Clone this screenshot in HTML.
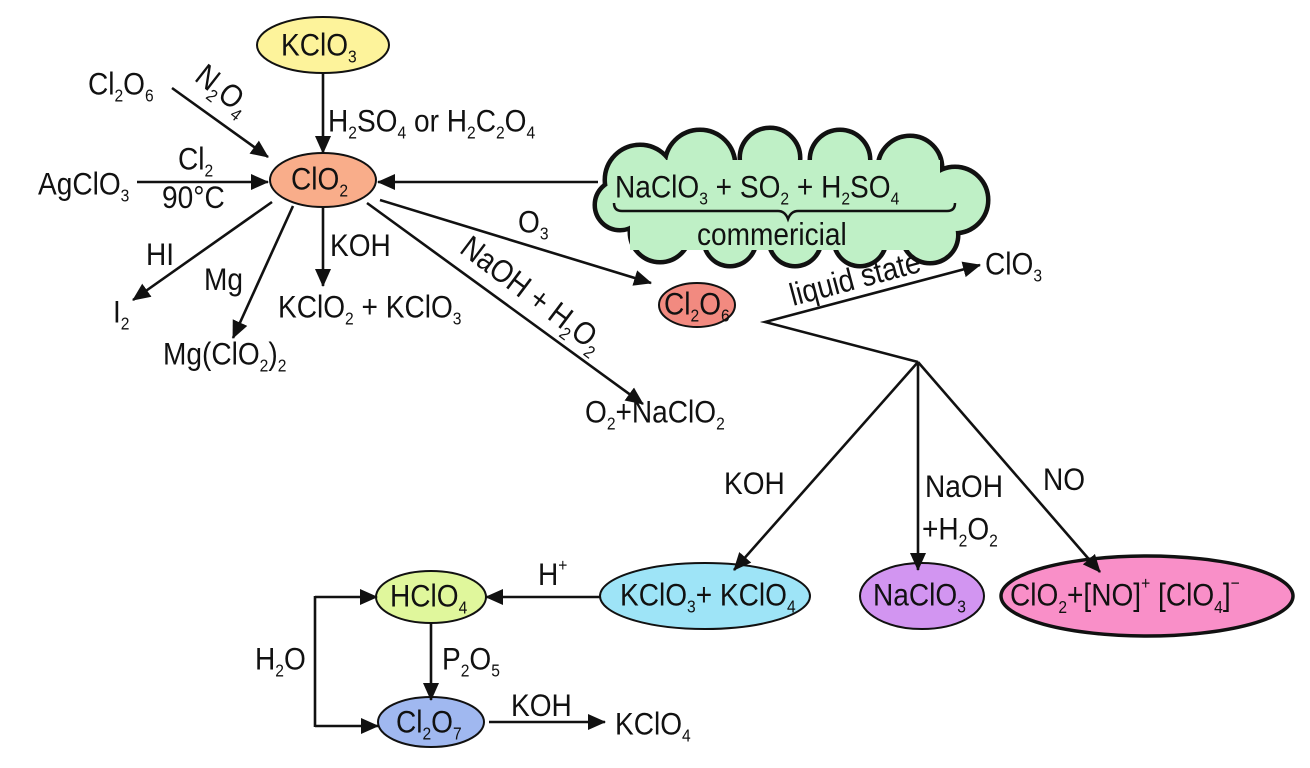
<!DOCTYPE html>
<html><head><meta charset="utf-8"><style>
html,body{margin:0;padding:0;background:#fff}
svg{display:block}
text{font-family:"Liberation Sans Narrow","Liberation Sans",sans-serif;font-size:27px;fill:#111;transform-box:fill-box;transform-origin:0 78%;transform:scale(1.04,1.18)}
.s{font-size:15px}
</style></head><body>
<svg width="1310" height="768" viewBox="0 0 1310 768" xmlns="http://www.w3.org/2000/svg">
<defs>
<marker id="b" markerWidth="18" markerHeight="18" refX="17" refY="9" orient="auto" markerUnits="userSpaceOnUse" viewBox="0 0 18 18">
<path d="M0,1 L18,9 L0,17 z" fill="#111"/></marker>
</defs>

<!-- cloud -->
<g stroke="#111" stroke-width="5" fill="#bff0c6">
<circle cx="640" cy="180" r="35"/><circle cx="700" cy="165" r="35"/><circle cx="770" cy="158" r="30"/>
<circle cx="840" cy="160" r="30"/><circle cx="910" cy="168" r="32"/><circle cx="955" cy="200" r="33"/>
<circle cx="930" cy="235" r="28"/><circle cx="860" cy="240" r="26"/><circle cx="795" cy="240" r="26"/>
<circle cx="730" cy="240" r="26"/><circle cx="660" cy="232" r="30"/><circle cx="620" cy="205" r="25"/>
</g>
<g fill="#bff0c6">
<circle cx="640" cy="180" r="33"/><circle cx="700" cy="165" r="33"/><circle cx="770" cy="158" r="28"/>
<circle cx="840" cy="160" r="28"/><circle cx="910" cy="168" r="30"/><circle cx="955" cy="200" r="31"/>
<circle cx="930" cy="235" r="26"/><circle cx="860" cy="240" r="24"/><circle cx="795" cy="240" r="24"/>
<circle cx="730" cy="240" r="24"/><circle cx="660" cy="232" r="28"/><circle cx="620" cy="205" r="23"/>
<rect x="630" y="160" width="310" height="90"/>
</g>
<path d="M614,203 q0,8 8,8 L778,211 q7,0 10,8 q3,-8 10,-8 L947,211 q8,0 8,-8" stroke="#111" stroke-width="2.5" fill="none"/>

<!-- ellipses -->
<g stroke="#111" stroke-width="2">
<ellipse cx="323" cy="45" rx="66" ry="28" fill="#fdf39b"/>
<ellipse cx="323" cy="180" rx="53" ry="27" fill="#f9ad8a"/>
<ellipse cx="697" cy="305" rx="38" ry="22" fill="#f28a80"/>
<ellipse cx="705" cy="596" rx="105" ry="33" fill="#9ee4f7"/>
<ellipse cx="922" cy="596" rx="62" ry="33" fill="#d295f1"/>
<ellipse cx="1147" cy="596" rx="146" ry="40" fill="#f98fc8" stroke-width="3.5"/>
<ellipse cx="431" cy="597" rx="55" ry="26" fill="#e0f79c"/>
<ellipse cx="431" cy="722" rx="53" ry="25" fill="#a0b8f0"/>
</g>

<g stroke="#111" stroke-width="2.6" fill="none" marker-end="url(#b)">
<line x1="323" y1="73" x2="323" y2="153"/>
<line x1="172" y1="88" x2="268" y2="157"/>
<line x1="137" y1="182" x2="268" y2="182"/>
<line x1="598" y1="182" x2="378" y2="182"/>
<line x1="272" y1="202" x2="133" y2="300"/>
<line x1="293" y1="206" x2="233" y2="338"/>
<line x1="323" y1="207" x2="323" y2="286"/>
<line x1="367" y1="203" x2="643" y2="404"/>
<line x1="380" y1="200" x2="651" y2="283"/>
<polyline points="918,362 765,322 980,265"/>
<line x1="918" y1="362" x2="734" y2="570"/>
<line x1="918" y1="362" x2="918" y2="570"/>
<line x1="918" y1="362" x2="1100" y2="572"/>
<line x1="600" y1="597" x2="486" y2="597"/>
<line x1="431" y1="623" x2="431" y2="700"/>
<line x1="489" y1="722" x2="605" y2="722"/>
<line x1="315" y1="597" x2="377" y2="597"/>
<line x1="315" y1="726" x2="378" y2="726"/>
</g>
<line x1="315" y1="596" x2="315" y2="727" stroke="#111" stroke-width="2.6"/>

<text x="281" y="56">KClO<tspan class="s" dy="6">3</tspan></text>
<text x="291" y="190">ClO<tspan class="s" dy="6">2</tspan></text>
<text x="328" y="132">H<tspan class="s" dy="6">2</tspan><tspan dy="-6">SO</tspan><tspan class="s" dy="6">4</tspan><tspan dy="-6"> or H</tspan><tspan class="s" dy="6">2</tspan><tspan dy="-6">C</tspan><tspan class="s" dy="6">2</tspan><tspan dy="-6">O</tspan><tspan class="s" dy="6">4</tspan></text>
<text x="88" y="95">Cl<tspan class="s" dy="6">2</tspan><tspan dy="-6">O</tspan><tspan class="s" dy="6">6</tspan></text>
<g transform="translate(193,80) rotate(38)"><text x="0" y="0">N<tspan class="s" dy="6">2</tspan><tspan dy="-6">O</tspan><tspan class="s" dy="6">4</tspan></text></g>
<text x="38" y="195">AgClO<tspan class="s" dy="6">3</tspan></text>
<text x="178" y="170">Cl<tspan class="s" dy="6">2</tspan></text>
<text x="162" y="208">90°C</text>
<text x="146" y="265">HI</text>
<text x="113" y="323">I<tspan class="s" dy="6">2</tspan></text>
<text x="204" y="290">Mg</text>
<text x="163" y="365">Mg(ClO<tspan class="s" dy="6">2</tspan><tspan dy="-6">)</tspan><tspan class="s" dy="6">2</tspan></text>
<text x="330" y="256">KOH</text>
<text x="278" y="318">KClO<tspan class="s" dy="6">2</tspan><tspan dy="-6"> + KClO</tspan><tspan class="s" dy="6">3</tspan></text>
<g transform="translate(458,252) rotate(37)"><text x="0" y="0">NaOH + H<tspan class="s" dy="6">2</tspan><tspan dy="-6">O</tspan><tspan class="s" dy="6">2</tspan></text></g>
<text x="585" y="423">O<tspan class="s" dy="6">2</tspan><tspan dy="-6">+NaClO</tspan><tspan class="s" dy="6">2</tspan></text>
<text x="518" y="233">O<tspan class="s" dy="6">3</tspan></text>
<text x="615" y="198">NaClO<tspan class="s" dy="6">3</tspan><tspan dy="-6"> + SO</tspan><tspan class="s" dy="6">2</tspan><tspan dy="-6"> + H</tspan><tspan class="s" dy="6">2</tspan><tspan dy="-6">SO</tspan><tspan class="s" dy="6">4</tspan></text>
<text x="697" y="245">commericial</text>
<text x="664" y="315">Cl<tspan class="s" dy="6">2</tspan><tspan dy="-6">O</tspan><tspan class="s" dy="6">6</tspan></text>
<g transform="translate(793,306) rotate(-15)"><text x="0" y="0">liquid state</text></g>
<text x="985" y="275">ClO<tspan class="s" dy="6">3</tspan></text>
<text x="724" y="494">KOH</text>
<text x="925" y="497">NaOH</text>
<text x="922" y="540">+H<tspan class="s" dy="6">2</tspan><tspan dy="-6">O</tspan><tspan class="s" dy="6">2</tspan></text>
<text x="1043" y="490">NO</text>
<text x="620" y="606">KClO<tspan class="s" dy="6">3</tspan><tspan dy="-6">+ KClO</tspan><tspan class="s" dy="6">4</tspan></text>
<text x="873" y="606">NaClO<tspan class="s" dy="6">3</tspan></text>
<text x="1010" y="606">ClO<tspan class="s" dy="6">2</tspan><tspan dy="-6">+[NO]</tspan><tspan class="s" dy="-14">+</tspan><tspan dy="14"> [ClO</tspan><tspan class="s" dy="6">4</tspan><tspan dy="-6">]</tspan><tspan class="s" dy="-14">−</tspan></text>
<text x="538" y="585">H<tspan class="s" dy="-12">+</tspan></text>
<text x="390" y="607">HClO<tspan class="s" dy="6">4</tspan></text>
<text x="442" y="670">P<tspan class="s" dy="6">2</tspan><tspan dy="-6">O</tspan><tspan class="s" dy="6">5</tspan></text>
<text x="255" y="670">H<tspan class="s" dy="6">2</tspan><tspan dy="-6">O</tspan></text>
<text x="396" y="733">Cl<tspan class="s" dy="6">2</tspan><tspan dy="-6">O</tspan><tspan class="s" dy="6">7</tspan></text>
<text x="511" y="716">KOH</text>
<text x="615" y="735">KClO<tspan class="s" dy="6">4</tspan></text>
</svg>
</body></html>
